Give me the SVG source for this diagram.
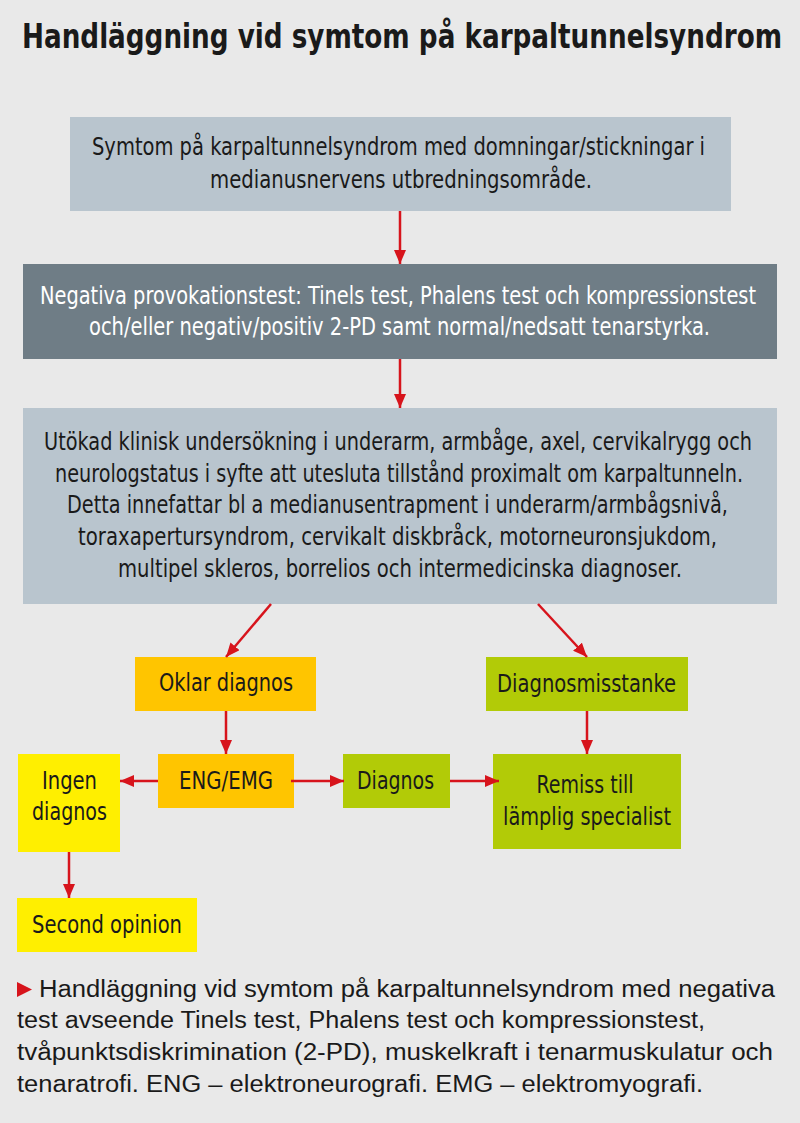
<svg xmlns="http://www.w3.org/2000/svg" width="800" height="1123" viewBox="0 0 800 1123">
<defs>
<style>
.t{font-family:"DejaVu Sans Condensed","Liberation Sans Narrow","Liberation Sans",sans-serif;font-size:25px;fill:#1a1a1a;text-anchor:middle}
.w{fill:#ffffff}
.cap{font-family:"Liberation Sans","DejaVu Sans",sans-serif;font-size:23px;fill:#1a1a1a}
.c{stroke:#d7141c;stroke-width:2.5;fill:none;marker-end:url(#ah)}
</style>
<marker id="ah" viewBox="0 0 14 12" refX="14" refY="6" markerWidth="14" markerHeight="12" markerUnits="userSpaceOnUse" orient="auto">
<path d="M0,0 L14,6 L0,12 Z" fill="#d7141c"/>
</marker>
</defs>
<rect width="800" height="1123" fill="#e9e9e9"/>
<text transform="translate(402,48) scale(0.78,1)" x="0" y="0" font-family="'DejaVu Sans Condensed','Liberation Sans',sans-serif" font-weight="bold" font-size="34" fill="#1a1a1a" text-anchor="middle" textLength="974.4" lengthAdjust="spacingAndGlyphs">Handläggning vid symtom på karpaltunnelsyndrom</text>

<g id="n1">
<rect x="70" y="117" width="661" height="94" fill="#b9c5ce"/>
<text class="t" transform="translate(398.5,155) scale(0.82,1)" textLength="747.6" lengthAdjust="spacingAndGlyphs">Symtom på karpaltunnelsyndrom med domningar/stickningar i</text>
<text class="t" transform="translate(401,188) scale(0.82,1)" textLength="465.9" lengthAdjust="spacingAndGlyphs">medianusnervens utbredningsområde.</text>
</g>
<g id="n2">
<rect x="23" y="264" width="754" height="95" fill="#6f7d86"/>
<text class="t w" transform="translate(398,304) scale(0.82,1)" textLength="873.2" lengthAdjust="spacingAndGlyphs">Negativa provokationstest: Tinels test, Phalens test och kompressionstest</text>
<text class="t w" transform="translate(399.5,335) scale(0.82,1)" textLength="757.3" lengthAdjust="spacingAndGlyphs">och/eller negativ/positiv 2-PD samt normal/nedsatt tenarstyrka.</text>
</g>
<g id="n3">
<rect x="23" y="408" width="754" height="196" fill="#b9c5ce"/>
<text class="t" transform="translate(398,450) scale(0.82,1)" textLength="863.4" lengthAdjust="spacingAndGlyphs">Utökad klinisk undersökning i underarm, armbåge, axel, cervikalrygg och</text>
<text class="t" transform="translate(399,482) scale(0.82,1)" textLength="839" lengthAdjust="spacingAndGlyphs">neurologstatus i syfte att utesluta tillstånd proximalt om karpaltunneln.</text>
<text class="t" transform="translate(397.5,513) scale(0.82,1)" textLength="806.1" lengthAdjust="spacingAndGlyphs">Detta innefattar bl a medianusentrapment i underarm/armbågsnivå,</text>
<text class="t" transform="translate(397.5,545) scale(0.82,1)" textLength="779.3" lengthAdjust="spacingAndGlyphs">toraxapertursyndrom, cervikalt diskbråck, motorneuronsjukdom,</text>
<text class="t" transform="translate(400,577) scale(0.82,1)" textLength="687.8" lengthAdjust="spacingAndGlyphs">multipel skleros, borrelios och intermedicinska diagnoser.</text>
</g>
<g id="n4">
<rect x="135" y="657" width="181" height="54" fill="#ffc500"/>
<text class="t" transform="translate(226,691) scale(0.82,1)" textLength="163.4" lengthAdjust="spacingAndGlyphs">Oklar diagnos</text>
</g>
<g id="n5">
<rect x="486" y="657" width="202" height="54" fill="#b2cb07"/>
<text class="t" transform="translate(586.5,692) scale(0.82,1)" textLength="218.3" lengthAdjust="spacingAndGlyphs">Diagnosmisstanke</text>
</g>
<g id="n6">
<rect x="158" y="754" width="136" height="54" fill="#ffc500"/>
<text class="t" transform="translate(226,789) scale(0.82,1)" textLength="114.6" lengthAdjust="spacingAndGlyphs">ENG/EMG</text>
</g>
<g id="n7">
<rect x="18" y="754" width="102" height="98" fill="#ffef00"/>
<text class="t" transform="translate(69.5,789) scale(0.82,1)" textLength="67.1" lengthAdjust="spacingAndGlyphs">Ingen</text>
<text class="t" transform="translate(69.5,820) scale(0.82,1)" textLength="91.5" lengthAdjust="spacingAndGlyphs">diagnos</text>
</g>
<g id="n8">
<rect x="343" y="754" width="107" height="54" fill="#b2cb07"/>
<text class="t" transform="translate(395.5,789) scale(0.82,1)" textLength="93.9" lengthAdjust="spacingAndGlyphs">Diagnos</text>
</g>
<g id="n9">
<rect x="493" y="754" width="188" height="95" fill="#b2cb07"/>
<text class="t" transform="translate(585,793) scale(0.82,1)" textLength="118.3" lengthAdjust="spacingAndGlyphs">Remiss till</text>
<text class="t" transform="translate(587,825) scale(0.82,1)" textLength="204.9" lengthAdjust="spacingAndGlyphs">lämplig specialist</text>
</g>
<g id="n10">
<rect x="17" y="898" width="180" height="54" fill="#ffef00"/>
<text class="t" transform="translate(107,933) scale(0.82,1)" textLength="182.9" lengthAdjust="spacingAndGlyphs">Second opinion</text>
</g>

<g id="connectors">
<line class="c" x1="400" y1="211" x2="400" y2="264"/>
<line class="c" x1="400" y1="359" x2="400" y2="408"/>
<line class="c" x1="271" y1="604" x2="226" y2="657"/>
<line class="c" x1="538" y1="604" x2="587" y2="657"/>
<line class="c" x1="226" y1="711" x2="226" y2="754"/>
<line class="c" x1="587" y1="711" x2="587" y2="754"/>
<line class="c" x1="158" y1="781" x2="120" y2="781"/>
<line class="c" x1="291" y1="781" x2="344" y2="781"/>
<line class="c" x1="450" y1="781" x2="499" y2="781"/>
<line class="c" x1="69" y1="852" x2="69" y2="898"/>
</g>

<g id="caption">
<path d="M17,982 L32,989.5 L17,997 Z" fill="#d7141c"/>
<text class="cap" x="39" y="997" textLength="736" lengthAdjust="spacingAndGlyphs">Handläggning vid symtom på karpaltunnelsyndrom med negativa</text>
<text class="cap" x="17" y="1028" textLength="688" lengthAdjust="spacingAndGlyphs">test avseende Tinels test, Phalens test och kompressionstest,</text>
<text class="cap" x="17" y="1060" textLength="756" lengthAdjust="spacingAndGlyphs">tvåpunktsdiskrimination (2-PD), muskelkraft i tenarmuskulatur och</text>
<text class="cap" x="17" y="1092" textLength="686" lengthAdjust="spacingAndGlyphs">tenaratrofi. ENG – elektroneurografi. EMG – elektromyografi.</text>
</g>
</svg>
